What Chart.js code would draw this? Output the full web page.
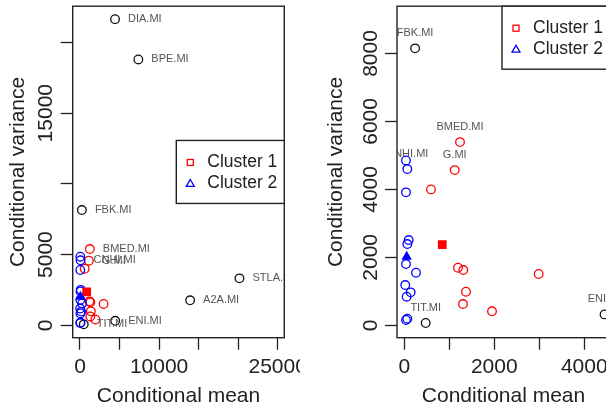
<!DOCTYPE html>
<html>
<head>
<meta charset="utf-8">
<script src="https://cdn.jsdelivr.net/npm/chart.js@4.4.0/dist/chart.umd.min.js"></script>
<style>
  html, body { margin: 0; padding: 0; background: #fff; overflow: hidden; }
  #wrap { position: relative; width: 606px; height: 408px; overflow: hidden; }
  #leftBox { position: absolute; left: 0; top: 0; width: 300px; height: 408px; }
  #rightBox { position: absolute; left: 300px; top: 0; width: 320px; height: 408px; }
</style>
</head>
<body>
<div id="wrap">
  <div id="leftBox"><canvas id="leftChart" width="300" height="408"></canvas></div>
  <div id="rightBox"><canvas id="rightChart" width="320" height="408"></canvas></div>
</div>
<script>
// stocks outside both clusters (black circles)
const otherNames = ['DIA.MI', 'BPE.MI', 'FBK.MI', 'STLA.MI', 'A2A.MI', 'ENI.MI', 'TIT.MI'];
const otherMean = [4430, 7380, 240, 20165, 13924, 4450, 475];
const otherVar = [21650, 18800, 8150, 3322, 1767, 320, 68];

// cluster 1 (red)
const c1Names = ['BMED.MI', 'G.MI', '', '', '', '', '', '', ''];
const c1Mean = [1238, 1120, 593, 1193, 1311, 1371, 1304, 1949, 2986];
const c1Var = [5391, 4568, 4000, 1694, 1626, 988, 626, 412, 1509];

// cluster 2 (blue)
const c2Names = ['', 'CNHI.MI', '', '', '', '', '', '', '', '', '', ''];
const c2Mean = [38, 67, 38, 98, 67, 38, 260, 22, 142, 53, 67, 38];
const c2Var = [4853, 4597, 3912, 2509, 2391, 1803, 1547, 1185, 970, 841, 194, 156];

// cluster centres
const centre1 = [844, 2371];
const centre2 = [53, 2018];

const legendLabels = ['Cluster 1', 'Cluster 2'];

// axis ticks and the tick labels that are printed
const leftXTicks = [0, 5000, 10000, 15000, 20000, 25000];
const leftXLabels = [0, 10000, 25000];
const leftYTicks = [0, 5000, 10000, 15000, 20000];
const leftYLabels = [0, 5000, 15000];
const rightXTicks = [0, 1000, 2000, 3000, 4000];
const rightXLabels = [0, 2000, 4000];
const rightYTicks = [0, 2000, 4000, 6000, 8000];
const rightYLabels = [0, 2000, 4000, 6000, 8000];

const FONT = '"Liberation Sans", Arial, sans-serif';
const RED = '#ff0000';
const BLUE = '#0000ff';
const INK = '#222';

function pts(xs, ys) {
  return xs.map((v, i) => ({ x: v, y: ys[i] }));
}

function axis(min, max, ticks, horizontal) {
  return {
    type: 'linear',
    min: min,
    max: max,
    afterBuildTicks: s => { s.ticks = ticks.map(v => ({ value: v })); },
    afterFit: s => { if (horizontal) s.height = 0; else s.width = 0; },
    ticks: { display: false },
    grid: { drawOnChartArea: false, drawTicks: true, tickLength: 12, tickColor: INK, tickWidth: 1.3 },
    border: { display: false }
  };
}

// box, tick labels and axis titles
function decor(cfg) {
  return {
    id: 'decor',
    afterDraw(chart) {
      const ctx = chart.ctx;
      const a = chart.chartArea;
      const xs = chart.scales.x, ys = chart.scales.y;
      ctx.save();
      ctx.strokeStyle = INK;
      ctx.lineWidth = 1.4;
      ctx.strokeRect(a.left, a.top, a.right - a.left, a.bottom - a.top);
      ctx.fillStyle = INK;
      ctx.font = '21px ' + FONT;
      ctx.textAlign = 'center';
      ctx.textBaseline = 'middle';
      cfg.xLabels.forEach(v => ctx.fillText(String(v), xs.getPixelForValue(v), 367));
      cfg.yLabels.forEach(v => {
        ctx.save();
        ctx.translate(a.left - 26, ys.getPixelForValue(v));
        ctx.rotate(-Math.PI / 2);
        ctx.fillText(String(v), 0, 0);
        ctx.restore();
      });
      ctx.fillText('Conditional mean', (a.left + a.right) / 2, 396);
      ctx.save();
      ctx.translate(cfg.yTitleX, (a.top + a.bottom) / 2);
      ctx.rotate(-Math.PI / 2);
      ctx.fillText('Conditional variance', 0, 0);
      ctx.restore();
      ctx.restore();
    }
  };
}

// ticker names next to / above their points
function pointLabels(mode) {
  return {
    id: 'pointLabels',
    afterDatasetsDraw(chart) {
      const ctx = chart.ctx, a = chart.chartArea;
      ctx.save();
      ctx.beginPath();
      ctx.rect(a.left, a.top, a.right - a.left, a.bottom - a.top);
      ctx.clip();
      ctx.font = '11px ' + FONT;
      ctx.fillStyle = '#555';
      ctx.textBaseline = 'middle';
      chart.data.datasets.forEach((ds, di) => {
        if (!ds.names) return;
        chart.getDatasetMeta(di).data.forEach((p, i) => {
          const name = ds.names[i];
          if (!name) return;
          if (mode === 'right') {
            ctx.textAlign = 'left';
            ctx.fillText(name, p.x + 13, p.y);
          } else {
            ctx.textAlign = 'center';
            ctx.fillText(name, p.x, p.y - 15);
          }
        });
      });
      ctx.restore();
    }
  };
}

function legendBox(pos) {
  return {
    id: 'clusterLegend',
    afterDraw(chart) {
      const ctx = chart.ctx, a = chart.chartArea;
      const w = 108, h = 63;
      const left = a.right - w;
      const top = pos === 'right' ? (a.top + a.bottom) / 2 - h / 2 : a.top;
      ctx.save();
      ctx.fillStyle = '#fff';
      ctx.fillRect(left, top, w, h);
      ctx.strokeStyle = INK;
      ctx.lineWidth = 1.4;
      ctx.strokeRect(left, top, w, h);
      ctx.lineWidth = 1.3;
      // square marker
      let mx = left + 14, my = top + 22;
      ctx.strokeStyle = RED;
      ctx.strokeRect(mx - 3, my - 3, 6, 6);
      // triangle marker
      let ty = top + 43;
      ctx.strokeStyle = BLUE;
      ctx.beginPath();
      ctx.moveTo(mx, ty - 4);
      ctx.lineTo(mx + 4, ty + 3);
      ctx.lineTo(mx - 4, ty + 3);
      ctx.closePath();
      ctx.stroke();
      ctx.fillStyle = INK;
      ctx.font = '17.5px ' + FONT;
      ctx.textAlign = 'left';
      ctx.textBaseline = 'middle';
      ctx.fillText(legendLabels[0], left + 31, my);
      ctx.fillText(legendLabels[1], left + 31, ty);
      ctx.restore();
    }
  };
}

function makeChart(id, cfg) {
  return new Chart(document.getElementById(id), {
    type: 'scatter',
    data: {
      datasets: [
        { data: pts(otherMean, otherVar), names: otherNames, pointStyle: 'circle', pointRadius: 4.3,
          borderColor: '#111', backgroundColor: 'rgba(0,0,0,0)', borderWidth: 1.3, order: 5 },
        { data: pts(c1Mean, c1Var), names: c1Names, pointStyle: 'circle', pointRadius: 4.3,
          borderColor: RED, backgroundColor: 'rgba(0,0,0,0)', borderWidth: 1.3, order: 4 },
        { data: pts(c2Mean, c2Var), names: c2Names, pointStyle: 'circle', pointRadius: 4.3,
          borderColor: BLUE, backgroundColor: 'rgba(0,0,0,0)', borderWidth: 1.3, order: 3 },
        { data: [{ x: centre1[0], y: centre1[1] }], pointStyle: 'rect', pointRadius: 6.2,
          borderColor: RED, backgroundColor: RED, borderWidth: 0, order: 2 },
        { data: [{ x: centre2[0], y: centre2[1] }], pointStyle: 'triangle', pointRadius: 6,
          borderColor: BLUE, backgroundColor: BLUE, borderWidth: 0, order: 1 }
      ]
    },
    options: {
      responsive: false,
      animation: false,
      devicePixelRatio: 1,
      layout: { padding: cfg.padding },
      plugins: { legend: { display: false }, tooltip: { enabled: false } },
      scales: {
        x: axis(cfg.xMin, cfg.xMax, cfg.xTicks, true),
        y: axis(cfg.yMin, cfg.yMax, cfg.yTicks, false)
      }
    },
    plugins: [pointLabels(cfg.labelMode), decor(cfg), legendBox(cfg.legendPos)]
  });
}

makeChart('leftChart', {
  padding: { left: 72.7, top: 6, right: 15.7, bottom: 70.3 },
  xMin: -923, xMax: 25835, yMin: -876, yMax: 22565,
  xTicks: leftXTicks, xLabels: leftXLabels,
  yTicks: leftYTicks, yLabels: leftYLabels,
  yTitleX: 18.5, labelMode: 'right', legendPos: 'right'
});

makeChart('rightChart', {
  padding: { left: 97, top: 6, right: 10, bottom: 70.3 },
  xMin: -162, xMax: 4571, yMin: -365, yMax: 9391,
  xTicks: rightXTicks, xLabels: rightXLabels,
  yTicks: rightYTicks, yLabels: rightYLabels,
  yTitleX: 36.5, labelMode: 'above', legendPos: 'topright'
});
</script>
</body>
</html>
